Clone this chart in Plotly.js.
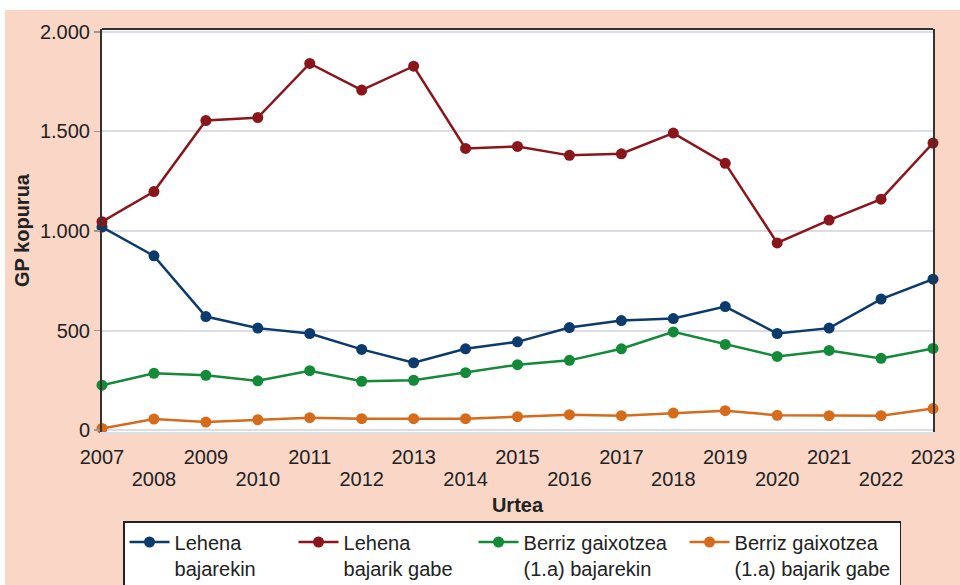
<!DOCTYPE html>
<html>
<head>
<meta charset="utf-8">
<script src="https://cdn.plot.ly/plotly-3.0.1.min.js"></script>
<style>
  html, body { margin: 0; padding: 0; background: #ffffff; }
  #chart { position: absolute; left: 5px; top: 10px; width: 955px; height: 575px; }
</style>
</head>
<body>
<div id="chart"></div>
<script>
// Years (x categories)
const years = [2007, 2008, 2009, 2010, 2011, 2012, 2013, 2014, 2015, 2016, 2017, 2018, 2019, 2020, 2021, 2022, 2023];
const oddYears = [2007, 2009, 2011, 2013, 2015, 2017, 2019, 2021, 2023];
const evenYears = [2008, 2010, 2012, 2014, 2016, 2018, 2020, 2022];

// Series names
const seriesNames = [
  "Lehena<br>bajarekin",
  "Lehena<br>bajarik gabe",
  "Berriz gaixotzea<br>(1.a) bajarekin",
  "Berriz gaixotzea<br>(1.a) bajarik gabe"
];

// Series values
const lehenaBajarekin = [1020, 875, 570, 512, 485, 405, 338, 408, 443, 515, 550, 560, 620, 485, 512, 658, 758];
const lehenaBajarikGabe = [1047, 1198, 1555, 1570, 1842, 1708, 1828, 1415, 1425, 1380, 1388, 1492, 1340, 940, 1055, 1160, 1442];
const berrizBajarekin = [225, 285, 275, 247, 298, 245, 250, 288, 328, 350, 408, 493, 430, 370, 400, 360, 410];
const berrizBajarikGabe = [8, 55, 40, 52, 62, 57, 57, 57, 67, 77, 72, 85, 97, 74, 72, 72, 108];

const yTickVals = [0, 500, 1000, 1500, 2000];

const colors = ["#0b3a6c", "#8a161c", "#138a38", "#d66b1b"];
const legendWidths = [114, 125, 156, 160];
const xAxesFor = ["x", "x", "x2", "x2"];
const allSeries = [lehenaBajarekin, lehenaBajarikGabe, berrizBajarekin, berrizBajarikGabe];

const traces = allSeries.map((vals, i) => ({
  type: "scatter",
  mode: "lines+markers",
  x: years,
  y: vals,
  xaxis: xAxesFor[i],
  yaxis: "y",
  name: seriesNames[i],
  line: { color: colors[i], width: 2.5 },
  marker: { color: colors[i], size: 11 },
  cliponaxis: false,
  legendwidth: legendWidths[i],
  hoverinfo: "x+y"
}));

const fontFam = "Liberation Sans, Arial, Helvetica, sans-serif";

const layout = {
  width: 955,
  height: 575,
  paper_bgcolor: "#fad6c7",
  plot_bgcolor: "#ffffff",
  separators: ",.",
  margin: { l: 97, r: 27, t: 19, b: 153 },
  font: { family: fontFam, color: "#222222", size: 20 },
  showlegend: true,
  legend: {
    orientation: "h",
    xref: "container",
    yref: "container",
    x: 0.1236,
    xanchor: "left",
    y: 0.1113,
    yanchor: "top",
    bgcolor: "#ffffff",
    bordercolor: "#222222",
    borderwidth: 1.5,
    valign: "top",
    itemwidth: 40,
    font: { family: fontFam, size: 20, color: "#222222" }
  },
  xaxis: {
    range: [2007, 2023],
    automargin: false,
    tickvals: oddYears,
    ticktext: oddYears.map(String),
    showgrid: false,
    zeroline: false,
    showline: true,
    linecolor: "#dcdce6",
    linewidth: 2,
    ticks: "",
    ticklabelstandoff: 6,
    tickfont: { family: fontFam, size: 20, color: "#222222" },
    title: { text: "Urtea", font: { family: fontFam, size: 20, color: "#222222", weight: "bold" }, standoff: 31 },
    fixedrange: true
  },
  xaxis2: {
    matches: "x",
    overlaying: "x",
    anchor: "y",
    side: "bottom",
    automargin: false,
    range: [2007, 2023],
    tickvals: evenYears,
    ticktext: evenYears.map(String),
    showgrid: false,
    zeroline: false,
    showline: false,
    ticks: "",
    ticklabelstandoff: 33,
    tickfont: { family: fontFam, size: 20, color: "#222222" },
    fixedrange: true
  },
  yaxis: {
    range: [-10, 2015],
    automargin: false,
    tickvals: yTickVals,
    tickformat: ",d",
    showgrid: true,
    gridcolor: "#dcdce6",
    gridwidth: 2,
    zeroline: false,
    showline: true,
    mirror: true,
    linecolor: "#333333",
    linewidth: 2,
    ticks: "outside",
    ticklen: 6,
    tickcolor: "#999999",
    tickwidth: 1.5,
    tickfont: { family: fontFam, size: 20, color: "#222222" },
    title: { text: "GP kopurua", font: { family: fontFam, size: 20, color: "#222222", weight: "bold" }, standoff: 5 },
    fixedrange: true
  },
  shapes: [
    { type: "line", xref: "paper", yref: "paper", x0: 0, x1: 1, y0: 1, y1: 1, line: { color: "#333333", width: 2 } }
  ]
};

Plotly.newPlot("chart", traces, layout, { displayModeBar: false, staticPlot: true });
</script>
</body>
</html>
